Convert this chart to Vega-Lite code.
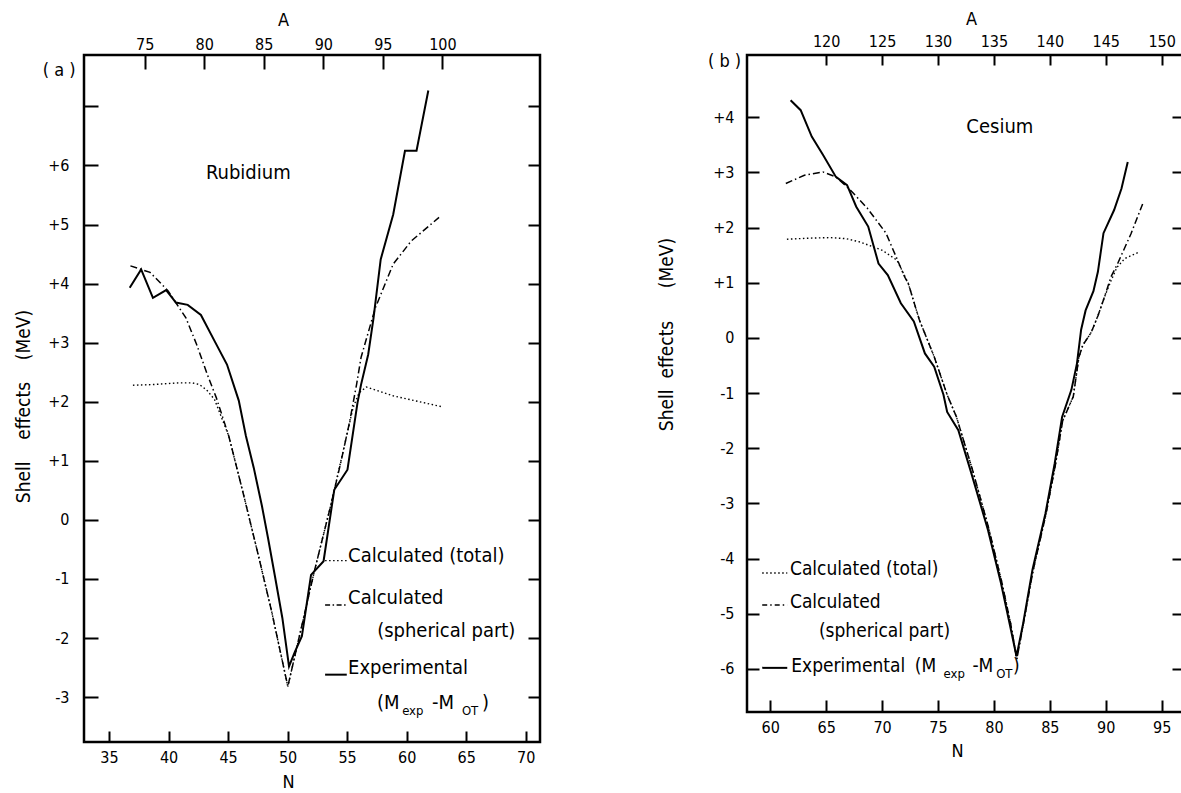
{
  "$schema": "https://vega.github.io/schema/vega-lite/v6.json",
  "padding": {"left": 13, "top": 8, "right": 0, "bottom": 0},
  "spacing": 113,
  "config": {
    "view": {"stroke": "black", "strokeWidth": 2.5},
    "axis": {
      "labelFont": "DejaVu Sans Condensed", "labelFontSize": 16, "labelColor": "black",
      "titleFont": "DejaVu Sans Condensed", "titleFontSize": 18, "titleFontWeight": "normal", "titleColor": "black",
      "tickColor": "black", "tickWidth": 2, "domain": false, "grid": false,
      "labelFlush": false, "labelOverlap": false
    },
    "text": {"font": "DejaVu Sans Condensed", "color": "black"}
  },
  "datasets": {
    "rb": [
      {"series": "exp", "N": 36.74, "E": 3.93}, {"series": "exp", "N": 37.70, "E": 4.24}, {"series": "exp", "N": 38.69, "E": 3.76},
      {"series": "exp", "N": 39.80, "E": 3.89}, {"series": "exp", "N": 40.62, "E": 3.68}, {"series": "exp", "N": 41.61, "E": 3.64},
      {"series": "exp", "N": 42.72, "E": 3.47}, {"series": "exp", "N": 43.86, "E": 3.03}, {"series": "exp", "N": 44.91, "E": 2.63},
      {"series": "exp", "N": 45.90, "E": 2.02}, {"series": "exp", "N": 46.50, "E": 1.42}, {"series": "exp", "N": 47.16, "E": 0.88},
      {"series": "exp", "N": 47.85, "E": 0.23}, {"series": "exp", "N": 48.36, "E": -0.31}, {"series": "exp", "N": 48.96, "E": -0.98},
      {"series": "exp", "N": 49.56, "E": -1.66}, {"series": "exp", "N": 50.12, "E": -2.48}, {"series": "exp", "N": 50.62, "E": -2.23},
      {"series": "exp", "N": 51.2, "E": -1.97}, {"series": "exp", "N": 51.97, "E": -0.93}, {"series": "exp", "N": 53.02, "E": -0.70},
      {"series": "exp", "N": 53.92, "E": 0.51}, {"series": "exp", "N": 55.03, "E": 0.85}, {"series": "exp", "N": 55.87, "E": 1.98},
      {"series": "exp", "N": 56.17, "E": 2.29}, {"series": "exp", "N": 56.77, "E": 2.80}, {"series": "exp", "N": 57.22, "E": 3.42},
      {"series": "exp", "N": 57.82, "E": 4.41}, {"series": "exp", "N": 58.87, "E": 5.17}, {"series": "exp", "N": 59.86, "E": 6.25},
      {"series": "exp", "N": 60.83, "E": 6.25}, {"series": "exp", "N": 61.82, "E": 7.27},
      {"series": "total", "N": 37.01, "E": 2.28}, {"series": "total", "N": 38.6, "E": 2.29}, {"series": "total", "N": 40.86, "E": 2.32},
      {"series": "total", "N": 42.0, "E": 2.32}, {"series": "total", "N": 42.6, "E": 2.29}, {"series": "total", "N": 43.2, "E": 2.2},
      {"series": "total", "N": 43.86, "E": 2.04}, {"series": "total", "N": 45.06, "E": 1.42}, {"series": "total", "N": 46.26, "E": 0.46},
      {"series": "total", "N": 47.46, "E": -0.53}, {"series": "total", "N": 48.66, "E": -1.55}, {"series": "total", "N": 50.02, "E": -2.82},
      {"series": "total", "N": 51.07, "E": -1.9}, {"series": "total", "N": 52.27, "E": -0.85}, {"series": "total", "N": 53.62, "E": 0.24},
      {"series": "total", "N": 54.82, "E": 1.3}, {"series": "total", "N": 55.5, "E": 1.9}, {"series": "total", "N": 56.0, "E": 2.15},
      {"series": "total", "N": 56.62, "E": 2.25}, {"series": "total", "N": 58.87, "E": 2.10}, {"series": "total", "N": 63.08, "E": 1.91},
      {"series": "spherical", "N": 36.8, "E": 4.30}, {"series": "spherical", "N": 38.45, "E": 4.19}, {"series": "spherical", "N": 39.95, "E": 3.88},
      {"series": "spherical", "N": 41.46, "E": 3.42}, {"series": "spherical", "N": 42.36, "E": 2.97}, {"series": "spherical", "N": 43.26, "E": 2.46},
      {"series": "spherical", "N": 44.01, "E": 2.07}, {"series": "spherical", "N": 45.06, "E": 1.42}, {"series": "spherical", "N": 46.26, "E": 0.46},
      {"series": "spherical", "N": 47.46, "E": -0.53}, {"series": "spherical", "N": 48.66, "E": -1.55}, {"series": "spherical", "N": 50.02, "E": -2.82},
      {"series": "spherical", "N": 51.07, "E": -1.9}, {"series": "spherical", "N": 52.27, "E": -0.85}, {"series": "spherical", "N": 53.62, "E": 0.24},
      {"series": "spherical", "N": 54.5, "E": 1.0}, {"series": "spherical", "N": 55.2, "E": 1.65}, {"series": "spherical", "N": 55.8, "E": 2.3},
      {"series": "spherical", "N": 56.17, "E": 2.75}, {"series": "spherical", "N": 57.37, "E": 3.59}, {"series": "spherical", "N": 58.87, "E": 4.33},
      {"series": "spherical", "N": 60.38, "E": 4.72}, {"series": "spherical", "N": 62.72, "E": 5.12}
    ],
    "rb_key": [
      {"series": "total", "N": 53.15, "E": -0.69}, {"series": "total", "N": 54.97, "E": -0.69},
      {"series": "spherical", "N": 53.15, "E": -1.44}, {"series": "spherical", "N": 54.97, "E": -1.44},
      {"series": "exp", "N": 53.15, "E": -2.62}, {"series": "exp", "N": 54.97, "E": -2.62}
    ],
    "rb_text": [
      {"kind": "legend", "N": 55.08, "E": -0.61, "text": "Calculated (total)"},
      {"kind": "legend", "N": 55.08, "E": -1.32, "text": "Calculated"},
      {"kind": "legend", "N": 57.52, "E": -1.88, "text": "(spherical part)"},
      {"kind": "legend", "N": 55.08, "E": -2.50, "text": "Experimental"},
      {"kind": "legend", "N": 57.50, "E": -3.10, "text": "(M"},
      {"kind": "legend", "N": 62.12, "E": -3.10, "text": "-M"},
      {"kind": "legend", "N": 66.32, "E": -3.10, "text": ")"},
      {"kind": "sub", "N": 59.62, "E": -3.24, "text": "exp"},
      {"kind": "sub", "N": 64.64, "E": -3.24, "text": "OT"},
      {"kind": "name", "N": 46.7, "E": 5.87, "text": "Rubidium"},
      {"kind": "panel", "N": 30.82, "E": 7.6, "text": "( a )"}
    ],
    "cs": [
      {"series": "exp", "N": 61.82, "E": 4.31}, {"series": "exp", "N": 62.72, "E": 4.13}, {"series": "exp", "N": 63.71, "E": 3.65},
      {"series": "exp", "N": 64.71, "E": 3.32}, {"series": "exp", "N": 65.87, "E": 2.92}, {"series": "exp", "N": 66.87, "E": 2.77},
      {"series": "exp", "N": 67.69, "E": 2.38}, {"series": "exp", "N": 68.76, "E": 2.02}, {"series": "exp", "N": 69.68, "E": 1.35},
      {"series": "exp", "N": 70.51, "E": 1.14}, {"series": "exp", "N": 71.68, "E": 0.63}, {"series": "exp", "N": 72.84, "E": 0.30},
      {"series": "exp", "N": 73.83, "E": -0.28}, {"series": "exp", "N": 74.66, "E": -0.52}, {"series": "exp", "N": 75.49, "E": -1.03},
      {"series": "exp", "N": 75.82, "E": -1.34}, {"series": "exp", "N": 76.82, "E": -1.67}, {"series": "exp", "N": 77.98, "E": -2.45},
      {"series": "exp", "N": 79.47, "E": -3.48}, {"series": "exp", "N": 80.63, "E": -4.44}, {"series": "exp", "N": 81.46, "E": -5.23},
      {"series": "exp", "N": 82.02, "E": -5.77}, {"series": "exp", "N": 82.62, "E": -5.17}, {"series": "exp", "N": 83.45, "E": -4.20},
      {"series": "exp", "N": 84.61, "E": -3.18}, {"series": "exp", "N": 85.44, "E": -2.27}, {"series": "exp", "N": 86.10, "E": -1.43},
      {"series": "exp", "N": 86.93, "E": -0.94}, {"series": "exp", "N": 87.43, "E": -0.46}, {"series": "exp", "N": 87.8, "E": 0.15},
      {"series": "exp", "N": 88.2, "E": 0.5}, {"series": "exp", "N": 88.9, "E": 0.85}, {"series": "exp", "N": 89.3, "E": 1.2},
      {"series": "exp", "N": 89.8, "E": 1.9}, {"series": "exp", "N": 90.75, "E": 2.32}, {"series": "exp", "N": 91.41, "E": 2.71},
      {"series": "exp", "N": 91.97, "E": 3.19},
      {"series": "total", "N": 61.49, "E": 1.79}, {"series": "total", "N": 63.5, "E": 1.81}, {"series": "total", "N": 65.37, "E": 1.82},
      {"series": "total", "N": 66.8, "E": 1.8}, {"series": "total", "N": 68.03, "E": 1.74}, {"series": "total", "N": 70.02, "E": 1.59},
      {"series": "total", "N": 71.34, "E": 1.41}, {"series": "total", "N": 72.34, "E": 0.99}, {"series": "total", "N": 73.33, "E": 0.33},
      {"series": "total", "N": 74.66, "E": -0.34}, {"series": "total", "N": 75.82, "E": -1.03}, {"series": "total", "N": 76.65, "E": -1.43},
      {"series": "total", "N": 78.1, "E": -2.4}, {"series": "total", "N": 79.5, "E": -3.42}, {"series": "total", "N": 80.7, "E": -4.42},
      {"series": "total", "N": 81.5, "E": -5.18}, {"series": "total", "N": 82.05, "E": -5.82}, {"series": "total", "N": 82.6, "E": -5.22},
      {"series": "total", "N": 83.5, "E": -4.22}, {"series": "total", "N": 84.65, "E": -3.2}, {"series": "total", "N": 85.5, "E": -2.3},
      {"series": "total", "N": 86.15, "E": -1.5}, {"series": "total", "N": 87.1, "E": -1.06}, {"series": "total", "N": 87.6, "E": -0.35},
      {"series": "total", "N": 87.95, "E": -0.13}, {"series": "total", "N": 88.7, "E": 0.1}, {"series": "total", "N": 89.3, "E": 0.4},
      {"series": "total", "N": 89.9, "E": 0.75}, {"series": "total", "N": 90.5, "E": 1.05}, {"series": "total", "N": 91.0, "E": 1.28},
      {"series": "total", "N": 91.7, "E": 1.44}, {"series": "total", "N": 92.9, "E": 1.55},
      {"series": "spherical", "N": 61.39, "E": 2.80}, {"series": "spherical", "N": 63.05, "E": 2.95}, {"series": "spherical", "N": 64.71, "E": 3.01},
      {"series": "spherical", "N": 65.87, "E": 2.92}, {"series": "spherical", "N": 67.03, "E": 2.71}, {"series": "spherical", "N": 68.69, "E": 2.35},
      {"series": "spherical", "N": 70.35, "E": 1.90}, {"series": "spherical", "N": 71.51, "E": 1.35}, {"series": "spherical", "N": 72.01, "E": 1.11},
      {"series": "spherical", "N": 72.34, "E": 0.99}, {"series": "spherical", "N": 73.33, "E": 0.33}, {"series": "spherical", "N": 74.66, "E": -0.34},
      {"series": "spherical", "N": 75.82, "E": -1.03}, {"series": "spherical", "N": 76.65, "E": -1.43}, {"series": "spherical", "N": 78.1, "E": -2.4},
      {"series": "spherical", "N": 79.5, "E": -3.42}, {"series": "spherical", "N": 80.7, "E": -4.42}, {"series": "spherical", "N": 81.5, "E": -5.18},
      {"series": "spherical", "N": 82.05, "E": -5.82}, {"series": "spherical", "N": 82.6, "E": -5.22}, {"series": "spherical", "N": 83.5, "E": -4.22},
      {"series": "spherical", "N": 84.65, "E": -3.2}, {"series": "spherical", "N": 85.5, "E": -2.3}, {"series": "spherical", "N": 86.15, "E": -1.5},
      {"series": "spherical", "N": 87.1, "E": -1.06}, {"series": "spherical", "N": 87.6, "E": -0.35}, {"series": "spherical", "N": 87.95, "E": -0.13},
      {"series": "spherical", "N": 88.7, "E": 0.1}, {"series": "spherical", "N": 89.3, "E": 0.4}, {"series": "spherical", "N": 89.9, "E": 0.75},
      {"series": "spherical", "N": 90.47, "E": 1.11}, {"series": "spherical", "N": 91.07, "E": 1.35}, {"series": "spherical", "N": 92.26, "E": 1.89},
      {"series": "spherical", "N": 93.3, "E": 2.43}
    ],
    "cs_key": [
      {"series": "total", "N": 59.28, "E": -4.26}, {"series": "total", "N": 61.52, "E": -4.26},
      {"series": "spherical", "N": 59.28, "E": -4.84}, {"series": "spherical", "N": 61.52, "E": -4.84},
      {"series": "exp", "N": 59.28, "E": -5.98}, {"series": "exp", "N": 61.52, "E": -5.98}
    ],
    "cs_text": [
      {"kind": "legend", "N": 61.76, "E": -4.18, "text": "Calculated (total)"},
      {"kind": "legend", "N": 61.76, "E": -4.78, "text": "Calculated"},
      {"kind": "legend", "N": 64.35, "E": -5.32, "text": "(spherical part)"},
      {"kind": "legend", "N": 61.88, "E": -5.95, "text": "Experimental"},
      {"kind": "legend", "N": 72.92, "E": -5.95, "text": "(M"},
      {"kind": "legend", "N": 78.08, "E": -5.95, "text": "-M"},
      {"kind": "legend", "N": 81.7, "E": -5.95, "text": ")"},
      {"kind": "sub", "N": 75.5, "E": -6.09, "text": "exp"},
      {"kind": "sub", "N": 80.2, "E": -6.09, "text": "OT"},
      {"kind": "name", "N": 80.53, "E": 3.83, "text": "Cesium"},
      {"kind": "panel", "N": 55.91, "E": 5.0, "text": "( b )"}
    ]
  },
  "hconcat": [
    {
      "width": 456,
      "height": 687,
      "resolve": {"axis": {"x": "independent", "y": "independent"}},
      "layer": [
        {
          "data": {"name": "rb"},
          "transform": [{"filter": "datum.series == 'total'"}],
          "mark": {"type": "line", "color": "black", "strokeWidth": 1.4, "strokeDash": [1.5, 2.5], "strokeCap": "butt"},
          "encoding": {
            "x": {"field": "N", "type": "quantitative", "scale": {"domain": [32.9, 71.2], "nice": false, "zero": false},
              "axis": {"orient": "bottom", "values": [35, 40, 45, 50, 55, 60, 65, 70], "ticks": false, "labelPadding": 7, "title": "N", "titlePadding": 8, "titleX": 204}},
            "y": {"field": "E", "type": "quantitative", "scale": {"domain": [-3.76, 7.87], "nice": false, "zero": false},
              "axis": {"orient": "left", "values": [-3, -2, -1, 0, 1, 2, 3, 4, 5, 6, 7], "ticks": false, "labelPadding": 15,
                "labelExpr": "datum.value > 6.5 ? '' : datum.value > 0 ? '+' + datum.value : datum.value < 0 ? '-' + abs(datum.value) : '0'",
                "title": "Shell\u00a0\u00a0\u00a0\u00a0effects\u00a0\u00a0\u00a0\u00a0(MeV)", "titleFontSize": 19, "titlePadding": 14, "titleY": 351}}
          }
        },
        {
          "data": {"name": "rb"},
          "transform": [{"filter": "datum.series == 'spherical'"}],
          "mark": {"type": "line", "color": "black", "strokeWidth": 1.5, "strokeDash": [7, 3, 1.5, 3], "strokeCap": "butt"},
          "encoding": {
            "x": {"field": "N", "type": "quantitative", "axis": {"orient": "bottom", "values": [35, 40, 45, 50, 55, 60, 65, 70], "labels": false, "tickSize": -11, "title": null}},
            "y": {"field": "E", "type": "quantitative", "axis": {"orient": "left", "values": [-3, -2, -1, 0, 1, 2, 3, 4, 5, 6, 7], "labels": false, "tickSize": -14, "title": null}}
          }
        },
        {
          "data": {"name": "rb"},
          "transform": [{"filter": "datum.series == 'exp'"}],
          "mark": {"type": "line", "color": "black", "strokeWidth": 2, "strokeCap": "butt"},
          "encoding": {
            "x": {"field": "N", "type": "quantitative", "axis": {"orient": "top", "values": [38, 43, 48, 53, 58, 63], "labelExpr": "'' + (datum.value + 37)", "ticks": false, "labelPadding": 3, "title": "A", "titlePadding": 7, "titleX": 199}},
            "y": {"field": "E", "type": "quantitative", "axis": {"orient": "right", "values": [-3, -2, -1, 0, 1, 2, 3, 4, 5, 6, 7], "labels": false, "tickSize": -12, "title": null}}
          }
        },
        {
          "data": {"name": "rb_key"},
          "transform": [{"filter": "datum.series == 'total'"}],
          "mark": {"type": "line", "color": "black", "strokeWidth": 1.4, "strokeDash": [1.5, 2.5], "strokeCap": "butt"},
          "encoding": {
            "x": {"field": "N", "type": "quantitative", "axis": {"orient": "top", "values": [38, 43, 48, 53, 58, 63], "labels": false, "tickSize": -14, "title": null}},
            "y": {"field": "E", "type": "quantitative", "axis": null}
          }
        },
        {
          "data": {"name": "rb_key"},
          "transform": [{"filter": "datum.series == 'spherical'"}],
          "mark": {"type": "line", "color": "black", "strokeWidth": 1.5, "strokeDash": [5, 2.5, 1.5, 2.5], "strokeCap": "butt"},
          "encoding": {
            "x": {"field": "N", "type": "quantitative", "axis": null},
            "y": {"field": "E", "type": "quantitative", "axis": null}
          }
        },
        {
          "data": {"name": "rb_key"},
          "transform": [{"filter": "datum.series == 'exp'"}],
          "mark": {"type": "line", "color": "black", "strokeWidth": 2, "strokeCap": "butt"},
          "encoding": {
            "x": {"field": "N", "type": "quantitative", "axis": null},
            "y": {"field": "E", "type": "quantitative", "axis": null}
          }
        },
        {
          "data": {"name": "rb_text"},
          "transform": [{"filter": "datum.kind == 'legend'"}],
          "mark": {"type": "text", "align": "left", "baseline": "middle", "fontSize": 20},
          "encoding": {
            "x": {"field": "N", "type": "quantitative", "axis": null},
            "y": {"field": "E", "type": "quantitative", "axis": null},
            "text": {"field": "text"}
          }
        },
        {
          "data": {"name": "rb_text"},
          "transform": [{"filter": "datum.kind == 'name'"}],
          "mark": {"type": "text", "align": "center", "baseline": "middle", "fontSize": 20},
          "encoding": {
            "x": {"field": "N", "type": "quantitative", "axis": null},
            "y": {"field": "E", "type": "quantitative", "axis": null},
            "text": {"field": "text"}
          }
        },
        {
          "data": {"name": "rb_text"},
          "transform": [{"filter": "datum.kind == 'panel'"}],
          "mark": {"type": "text", "align": "center", "baseline": "middle", "fontSize": 18},
          "encoding": {
            "x": {"field": "N", "type": "quantitative", "axis": null},
            "y": {"field": "E", "type": "quantitative", "axis": null},
            "text": {"field": "text"}
          }
        },
        {
          "data": {"name": "rb_text"},
          "transform": [{"filter": "datum.kind == 'sub'"}],
          "mark": {"type": "text", "align": "left", "baseline": "middle", "fontSize": 13},
          "encoding": {
            "x": {"field": "N", "type": "quantitative", "axis": null},
            "y": {"field": "E", "type": "quantitative", "axis": null},
            "text": {"field": "text"}
          }
        }
      ]
    },
    {
      "width": 437,
      "height": 657,
      "resolve": {"axis": {"x": "independent", "y": "independent"}},
      "layer": [
        {
          "data": {"name": "cs"},
          "transform": [{"filter": "datum.series == 'total'"}],
          "mark": {"type": "line", "color": "black", "strokeWidth": 1.4, "strokeDash": [1.5, 2.5], "strokeCap": "butt"},
          "encoding": {
            "x": {"field": "N", "type": "quantitative", "scale": {"domain": [57.92, 97.0], "nice": false, "zero": false},
              "axis": {"orient": "bottom", "values": [60, 65, 70, 75, 80, 85, 90, 95], "ticks": false, "labelPadding": 7, "title": "N", "titlePadding": 7, "titleX": 210}},
            "y": {"field": "E", "type": "quantitative", "scale": {"domain": [-6.78, 5.13], "nice": false, "zero": false},
              "axis": {"orient": "left", "values": [-6, -5, -4, -3, -2, -1, 0, 1, 2, 3, 4], "ticks": false, "labelPadding": 13,
                "labelExpr": "datum.value > 0 ? '+' + datum.value : datum.value < 0 ? '-' + abs(datum.value) : '0'",
                "title": "Shell\u00a0\u00a0effects\u00a0\u00a0\u00a0\u00a0\u00a0\u00a0(MeV)", "titleFontSize": 19, "titlePadding": 36, "titleY": 279}}
          }
        },
        {
          "data": {"name": "cs"},
          "transform": [{"filter": "datum.series == 'spherical'"}],
          "mark": {"type": "line", "color": "black", "strokeWidth": 1.5, "strokeDash": [7, 3, 1.5, 3], "strokeCap": "butt"},
          "encoding": {
            "x": {"field": "N", "type": "quantitative", "axis": {"orient": "bottom", "values": [60, 65, 70, 75, 80, 85, 90, 95], "labels": false, "tickSize": -12, "title": null}},
            "y": {"field": "E", "type": "quantitative", "axis": {"orient": "left", "values": [-6, -5, -4, -3, -2, -1, 0, 1, 2, 3, 4], "labels": false, "tickSize": -12, "title": null}}
          }
        },
        {
          "data": {"name": "cs"},
          "transform": [{"filter": "datum.series == 'exp'"}],
          "mark": {"type": "line", "color": "black", "strokeWidth": 2, "strokeCap": "butt"},
          "encoding": {
            "x": {"field": "N", "type": "quantitative", "axis": {"orient": "top", "values": [65, 70, 75, 80, 85, 90, 95], "labelExpr": "'' + (datum.value + 55)", "ticks": false, "labelPadding": 6, "title": "A", "titlePadding": 5, "titleX": 224}},
            "y": {"field": "E", "type": "quantitative", "axis": {"orient": "right", "values": [-6, -5, -4, -3, -2, -1, 0, 1, 2, 3, 4], "labels": false, "tickSize": -12, "title": null}}
          }
        },
        {
          "data": {"name": "cs_key"},
          "transform": [{"filter": "datum.series == 'total'"}],
          "mark": {"type": "line", "color": "black", "strokeWidth": 1.4, "strokeDash": [1.5, 2.5], "strokeCap": "butt"},
          "encoding": {
            "x": {"field": "N", "type": "quantitative", "axis": {"orient": "top", "values": [65, 70, 75, 80, 85, 90, 95], "labels": false, "tickSize": -10, "title": null}},
            "y": {"field": "E", "type": "quantitative", "axis": null}
          }
        },
        {
          "data": {"name": "cs_key"},
          "transform": [{"filter": "datum.series == 'spherical'"}],
          "mark": {"type": "line", "color": "black", "strokeWidth": 1.5, "strokeDash": [5, 3, 1.5, 3], "strokeCap": "butt"},
          "encoding": {
            "x": {"field": "N", "type": "quantitative", "axis": null},
            "y": {"field": "E", "type": "quantitative", "axis": null}
          }
        },
        {
          "data": {"name": "cs_key"},
          "transform": [{"filter": "datum.series == 'exp'"}],
          "mark": {"type": "line", "color": "black", "strokeWidth": 2, "strokeCap": "butt"},
          "encoding": {
            "x": {"field": "N", "type": "quantitative", "axis": null},
            "y": {"field": "E", "type": "quantitative", "axis": null}
          }
        },
        {
          "data": {"name": "cs_text"},
          "transform": [{"filter": "datum.kind == 'legend'"}],
          "mark": {"type": "text", "align": "left", "baseline": "middle", "fontSize": 19},
          "encoding": {
            "x": {"field": "N", "type": "quantitative", "axis": null},
            "y": {"field": "E", "type": "quantitative", "axis": null},
            "text": {"field": "text"}
          }
        },
        {
          "data": {"name": "cs_text"},
          "transform": [{"filter": "datum.kind == 'name'"}],
          "mark": {"type": "text", "align": "center", "baseline": "middle", "fontSize": 20},
          "encoding": {
            "x": {"field": "N", "type": "quantitative", "axis": null},
            "y": {"field": "E", "type": "quantitative", "axis": null},
            "text": {"field": "text"}
          }
        },
        {
          "data": {"name": "cs_text"},
          "transform": [{"filter": "datum.kind == 'panel'"}],
          "mark": {"type": "text", "align": "center", "baseline": "middle", "fontSize": 18},
          "encoding": {
            "x": {"field": "N", "type": "quantitative", "axis": null},
            "y": {"field": "E", "type": "quantitative", "axis": null},
            "text": {"field": "text"}
          }
        },
        {
          "data": {"name": "cs_text"},
          "transform": [{"filter": "datum.kind == 'sub'"}],
          "mark": {"type": "text", "align": "left", "baseline": "middle", "fontSize": 13},
          "encoding": {
            "x": {"field": "N", "type": "quantitative", "axis": null},
            "y": {"field": "E", "type": "quantitative", "axis": null},
            "text": {"field": "text"}
          }
        }
      ]
    }
  ]
}
